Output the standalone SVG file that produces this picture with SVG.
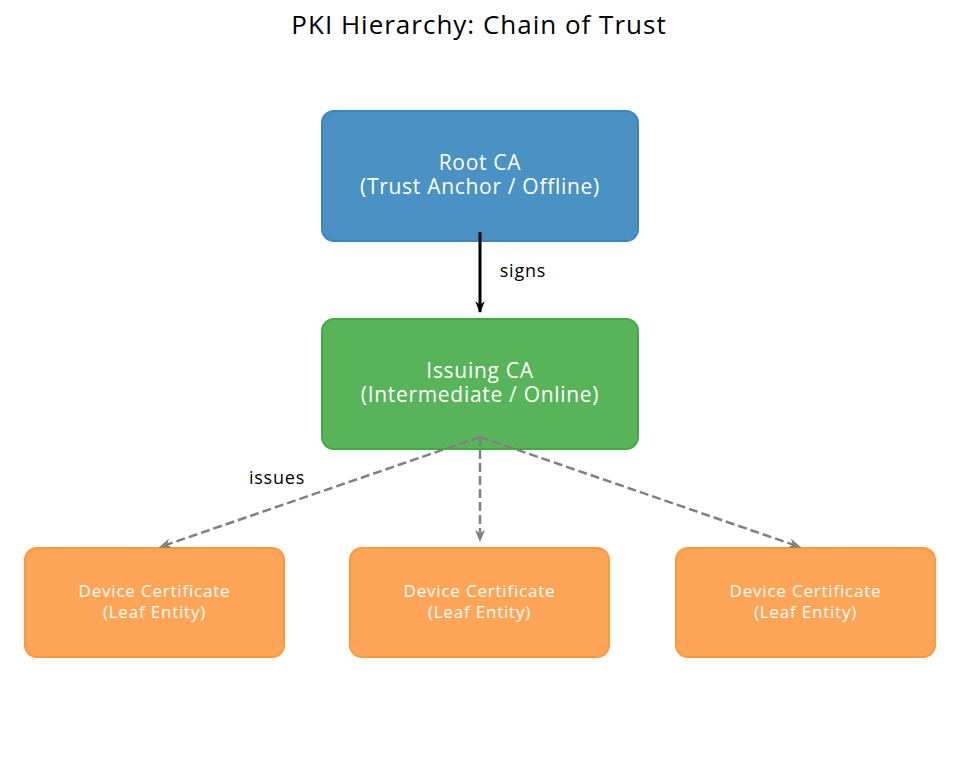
<svg xmlns="http://www.w3.org/2000/svg" width="959" height="763" viewBox="0 0 959 763">
<style>
text{font-family:"Open Sans","Liberation Sans",sans-serif;text-anchor:middle}
.title{font-size:26px;letter-spacing:1px;fill:#000}
.big{font-size:21px;letter-spacing:0.7px;fill:#fff}
.small{font-size:17px;letter-spacing:0.8px;fill:#fff}
.lbl{font-size:18px;letter-spacing:0.8px;fill:#000}
.root{fill:#4a92c3;stroke:#3a86c1;stroke-width:2}
.iss{fill:#57b458;stroke:#45a845;stroke-width:2}
.leaf{fill:#ffa557;stroke:#ff983a;stroke-width:2}
.solid{stroke:#000;stroke-width:3;fill:none}
.dash{stroke:#808080;stroke-width:2.5;fill:none;stroke-dasharray:9,4}
</style>
<defs>
<marker id="ab" viewBox="0 0 10 10" refX="9" refY="5" markerWidth="4" markerHeight="4" orient="auto" markerUnits="strokeWidth"><path d="M0,1 L10,5 L0,9 L3,5 z" fill="#000"/></marker>
<marker id="ag" viewBox="0 0 10 10" refX="9" refY="5" markerWidth="5" markerHeight="5" orient="auto" markerUnits="strokeWidth"><path d="M0,1 L10,5 L0,9 L3,5 z" fill="#808080"/></marker>
</defs>
<rect width="959" height="763" fill="#fff"/>
<text class="title" x="479" y="34">PKI Hierarchy: Chain of Trust</text>
<g id="root">
<rect class="root" x="322" y="111" width="316" height="130" rx="12"/>
<text class="big" x="480" y="170">Root CA</text>
<text class="big" x="480" y="194">(Trust Anchor / Offline)</text>
</g>
<g id="issuing">
<rect class="iss" x="322" y="319" width="316" height="130" rx="12"/>
<text class="big" x="480" y="378">Issuing CA</text>
<text class="big" x="480" y="402">(Intermediate / Online)</text>
</g>
<g id="leaf1">
<rect class="leaf" x="25" y="548" width="259" height="109" rx="12"/>
<text class="small" x="154.5" y="597">Device Certificate</text>
<text class="small" x="154.5" y="618">(Leaf Entity)</text>
</g>
<g id="leaf2">
<rect class="leaf" x="350" y="548" width="259" height="109" rx="12"/>
<text class="small" x="479.5" y="597">Device Certificate</text>
<text class="small" x="479.5" y="618">(Leaf Entity)</text>
</g>
<g id="leaf3">
<rect class="leaf" x="676" y="548" width="259" height="109" rx="12"/>
<text class="small" x="805.5" y="597">Device Certificate</text>
<text class="small" x="805.5" y="618">(Leaf Entity)</text>
</g>
<g id="connectors">
<line class="solid" x1="480" y1="232" x2="480" y2="312" marker-end="url(#ab)"/>
<line class="dash" x1="480" y1="437" x2="160" y2="547" marker-end="url(#ag)"/>
<line class="dash" x1="480" y1="437" x2="480" y2="541" marker-end="url(#ag)"/>
<line class="dash" x1="480" y1="437" x2="800" y2="547" marker-end="url(#ag)"/>
<text class="lbl" x="523" y="277">signs</text>
<text class="lbl" x="277" y="484">issues</text>
</g>
</svg>
